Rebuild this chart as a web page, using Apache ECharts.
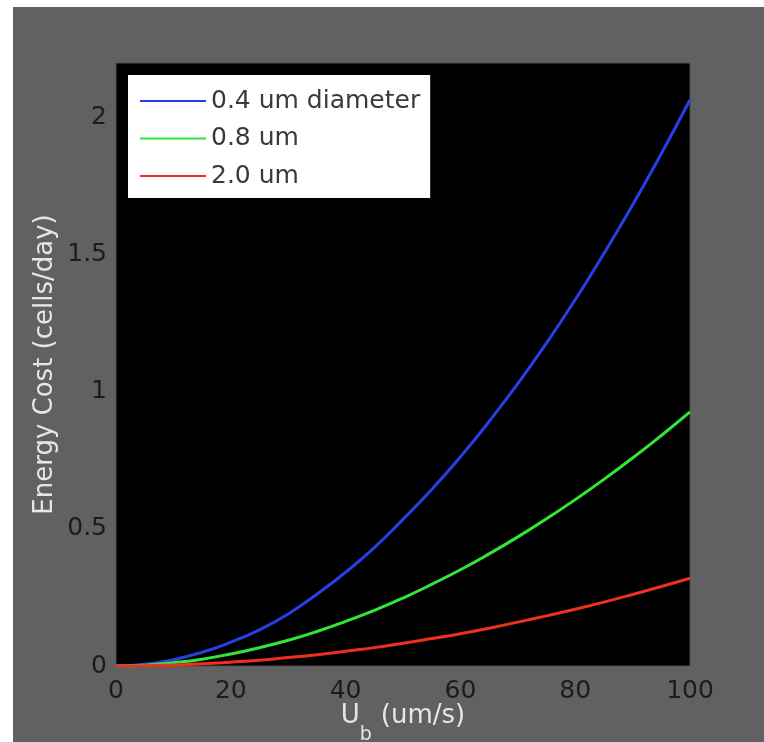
<!DOCTYPE html>
<html>
<head>
<meta charset="utf-8">
<script src="https://cdn.jsdelivr.net/npm/echarts@6/dist/echarts.min.js"></script>
<style>
html,body{margin:0;padding:0;background:#ffffff;}
#chart{width:764px;height:742px;}
</style>
</head>
<body>
<div id="chart"></div>
<script>
// ---- data ----
var speeds = [0,5,10,15,20,25,30,35,40,45,50,55,60,65,70,75,80,85,90,95,100];
var cost04 = [0,0.006,0.023,0.05,0.087,0.132,0.19,0.262,0.342,0.432,0.535,0.644,0.763,0.892,1.03,1.178,1.336,1.505,1.682,1.869,2.066];
var cost08 = [0,0.003,0.012,0.025,0.044,0.067,0.094,0.126,0.163,0.203,0.248,0.298,0.351,0.409,0.471,0.537,0.607,0.681,0.759,0.841,0.927];
var cost20 = [0,0.001,0.004,0.008,0.014,0.021,0.031,0.041,0.054,0.067,0.083,0.1,0.118,0.138,0.16,0.183,0.207,0.233,0.261,0.29,0.32];
var seriesNames = ['0.4 um diameter','0.8 um','2.0 um'];
var xTicks = [0,20,40,60,80,100];
var yTicks = [0,0.5,1,1.5,2];

function pairs(vals){ return speeds.map(function(s,i){ return [s, vals[i]]; }); }

var FONT = 'DejaVu Sans';
var colors = ['#2540e6','#33e633','#f0301e'];
var chart = echarts.init(document.getElementById('chart'), null, {renderer:'canvas'});
var option = {
  backgroundColor: '#ffffff',
  animation: false,
  graphic: [{
    type: 'rect', z: -10, silent: true,
    shape: {x: 13, y: 7, width: 751, height: 735},
    style: {fill: '#616161'}
  }],
  grid: {
    left: 116, top: 63, right: 74, bottom: 76,
    containLabel: false, outerBoundsMode: 'none',
    show: true, backgroundColor: '#000000', borderColor: '#505050', borderWidth: 1
  },
  legend: {
    data: seriesNames,
    orient: 'vertical',
    left: 128, top: 75,
    backgroundColor: '#ffffff',
    borderColor: '#000000', borderWidth: 0,
    padding: [13, 10, 9, 12],
    itemWidth: 66, itemHeight: 26, itemGap: 11.5,
    icon: 'path://M0,12 L66,12 L66,14 L0,14 Z',
    textStyle: {fontFamily: FONT, fontSize: 25, color: '#3a3a3a', lineHeight: 26}
  },
  xAxis: {
    type: 'value', min: 0, max: 100, interval: 20,
    name: '{a|U}{b|b}{a|(um/s)}',
    nameLocation: 'middle', nameGap: 37, nameMoveOverlap: false,
    nameTextStyle: {
      rich: {
        a: {fontFamily: FONT, fontSize: 26, color: '#e6e6e6', verticalAlign: 'top', lineHeight: 30},
        b: {fontFamily: FONT, fontSize: 19, color: '#e6e6e6', verticalAlign: 'bottom', lineHeight: 42, padding: [0, 9, 0, 0]}
      }
    },
    axisLine: {show: false},
    axisTick: {show: false},
    splitLine: {show: false},
    axisLabel: {fontFamily: FONT, fontSize: 25, color: '#1c1c1c', margin: 13,
      formatter: function(v){ return xTicks.indexOf(v) >= 0 ? String(v) : ''; }}
  },
  yAxis: {
    type: 'value', min: 0, max: 2.2, interval: 0.5,
    name: 'Energy Cost (cells/day)',
    nameLocation: 'middle', nameGap: 58, nameRotate: 90, nameMoveOverlap: false,
    nameTextStyle: {fontFamily: FONT, fontSize: 26, color: '#e6e6e6'},
    axisLine: {show: false},
    axisTick: {show: false},
    splitLine: {show: false},
    axisLabel: {fontFamily: FONT, fontSize: 25, color: '#1c1c1c', margin: 9,
      formatter: function(v){
        for (var i=0;i<yTicks.length;i++){ if (Math.abs(yTicks[i]-v) < 1e-9) return String(yTicks[i]); }
        return '';
      }}
  },
  series: [
    {name: seriesNames[0], type: 'line', data: pairs(cost04), smooth: true, showSymbol: false,
     color: colors[0], lineStyle: {width: 3, color: colors[0]}},
    {name: seriesNames[1], type: 'line', data: pairs(cost08), smooth: true, showSymbol: false,
     color: colors[1], lineStyle: {width: 3, color: colors[1]}},
    {name: seriesNames[2], type: 'line', data: pairs(cost20), smooth: true, showSymbol: false,
     color: colors[2], lineStyle: {width: 3, color: colors[2]}}
  ]
};
chart.setOption(option);
</script>
</body>
</html>
